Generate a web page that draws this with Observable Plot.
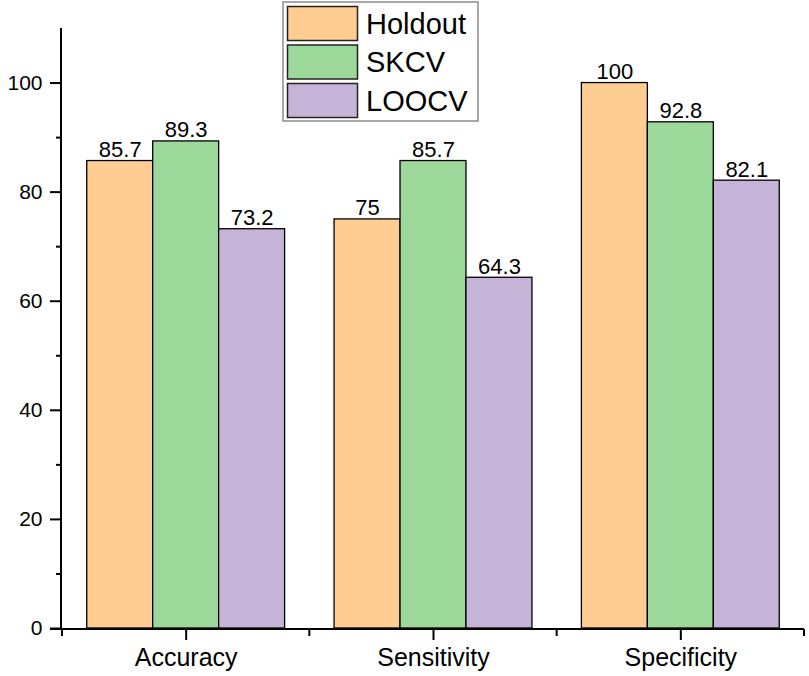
<!DOCTYPE html>
<html><head><meta charset="utf-8">
<script src="https://cdn.jsdelivr.net/npm/d3@7"></script>
<script src="https://cdn.jsdelivr.net/npm/@observablehq/plot@0.6"></script>
<style>
body{margin:0;background:#fff;}
#chart{width:809px;height:676px;}
#chart svg{font-family:Arial,"Liberation Sans",sans-serif;}
</style>
</head><body><div id="chart"></div>
<script>
const categories = ["Accuracy", "Sensitivity", "Specificity"];
const seriesNames = ["Holdout", "SKCV", "LOOCV"];
const holdout = [85.7, 75, 100];
const skcv = [89.3, 85.7, 92.8];
const loocv = [73.2, 64.3, 82.1];
const colors = ["#FFCC91", "#9DD89B", "#C6B3D8"];
const yMajorTicks = [0, 20, 40, 60, 80, 100];
const yMinorTicks = [10, 30, 50, 70, 90];
const yMax = 110;

const data = [];
[holdout, skcv, loocv].forEach((vals, j) =>
  vals.forEach((v, i) => data.push({category: categories[i], series: seriesNames[j], value: v}))
);

const W = 809, H = 676, mL = 62, mR = 5, mT = 28, mB = 48;

const chart = Plot.plot({
  width: W,
  height: H,
  marginLeft: mL,
  marginRight: mR,
  marginTop: mT,
  marginBottom: mB,
  style: {fontFamily: "Arial, 'Liberation Sans', sans-serif", color: "black", background: "white"},
  fx: {domain: categories, padding: 0, label: null, round: false},
  x: {domain: seriesNames, paddingInner: 0, paddingOuter: 0.375, axis: null, round: false},
  y: {domain: [0, yMax], label: null},
  color: {domain: seriesNames, range: colors},
  marks: [
    Plot.barY(data, {fx: "category", x: "series", y: "value", fill: "series", stroke: "black", strokeWidth: 1.3}),
    Plot.text(data, {fx: "category", x: "series", y: "value", text: d => String(d.value),
      lineAnchor: "bottom", dy: -4, fontSize: 22, fill: "black"}),
    Plot.axisY({ticks: yMajorTicks, tickSize: 12, tickPadding: 8, fontSize: 21, strokeWidth: 2, label: null}),
    Plot.axisY({ticks: yMinorTicks, tickSize: 6, strokeWidth: 2, tickFormat: () => "", label: null}),
    Plot.axisFx({anchor: "bottom", tickSize: 12, tickPadding: 8, fontSize: 25, strokeWidth: 2, label: null})
  ]
});
document.getElementById("chart").appendChild(chart);

// axis lines, boundary ticks and the in-plot legend, drawn once with the plot's own scales
const yScale = Plot.scale({y: chart.scale("y")});
const fxScale = chart.scale("fx");
const fxFn = Plot.scale({fx: fxScale});
const svg = d3.select(chart.tagName.toLowerCase() === "svg" ? chart : chart.querySelector("svg"));
const g = svg.append("g").attr("text-anchor", "start");
const y0 = yScale.apply(0), yTop = yScale.apply(yMax);
const right = W - mR;
g.append("line").attr("x1", mL - 1).attr("x2", mL - 1)
  .attr("y1", yTop).attr("y2", y0 + 1).attr("stroke", "black").attr("stroke-width", 2);
g.append("line").attr("x1", mL - 12).attr("x2", right)
  .attr("y1", y0 + 1).attr("y2", y0 + 1).attr("stroke", "black").attr("stroke-width", 2);
const bw = fxScale.bandwidth !== undefined ? fxScale.bandwidth : (right - mL) / categories.length;
const edges = categories.map(c => fxFn.apply(c));
edges.push(fxFn.apply(categories[categories.length - 1]) + bw);
edges.forEach(e => g.append("line").attr("x1", e).attr("x2", e)
  .attr("y1", y0 + 1).attr("y2", y0 + 8).attr("stroke", "black").attr("stroke-width", 2));

const colorFn = Plot.scale({color: chart.scale("color")});
const lx = 283, ly = 2, sw = 70, sh = 34, gap = 38.5;
g.append("rect").attr("x", lx).attr("y", ly).attr("width", 195).attr("height", 119)
  .attr("fill", "white").attr("stroke", "#8a8a8a").attr("stroke-width", 1.5);
seriesNames.forEach((s, i) => {
  g.append("rect").attr("x", lx + 4.5).attr("y", ly + 4.5 + i * gap).attr("width", sw).attr("height", sh)
    .attr("fill", colorFn.apply(s)).attr("stroke", "#222").attr("stroke-width", 1.5);
  g.append("text").attr("x", lx + 83).attr("y", ly + 4.5 + i * gap + sh / 2)
    .attr("dy", "0.36em").attr("font-size", 29).attr("fill", "black").text(s);
});
</script>
</body></html>
